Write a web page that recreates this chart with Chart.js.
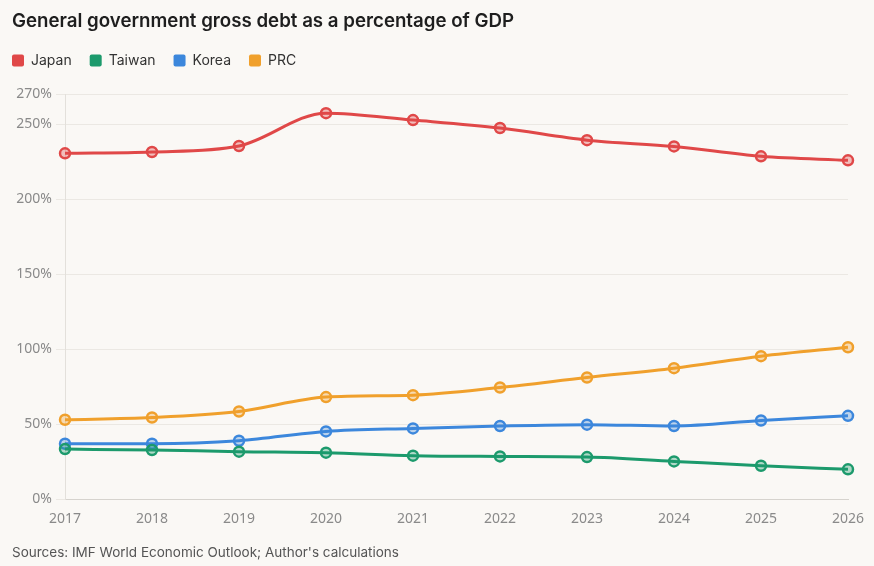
<!DOCTYPE HTML>
<html>
<head>
    <script src="https://cdn.jsdelivr.net/npm/chart.js"></script>
</head>
<body>
<style>
    * {
        margin: 0;
        padding: 0;
        box-sizing: border-box;
    }
    body {
        background: #faf8f5;
        width: 874px;
        height: 566px;
        overflow: hidden;
    }
    .chart {
        width: 874px;
        height: 566px;
    }
</style>
<div class="chart">
    <canvas id="myChart"></canvas>
</div>
<script>
    const years = ['2017', '2018', '2019', '2020', '2021', '2022', '2023', '2024', '2025', '2026'];
    const japan = [230.7, 231.6, 235.6, 257.5, 252.9, 247.6, 239.5, 235.3, 228.7, 226.0];
    const taiwan = [33.3, 32.7, 31.6, 30.9, 28.9, 28.4, 28.0, 25.1, 22.2, 19.8];
    const korea = [36.9, 36.9, 38.9, 45.1, 47.1, 48.7, 49.6, 48.7, 52.4, 55.5];
    const prc = [52.9, 54.4, 58.4, 68.0, 69.3, 74.4, 81.1, 87.3, 95.3, 101.3];
    const yTicks = [0, 50, 100, 150, 200, 250, 270];

    const colors = {
        japan: '#e04848',
        taiwan: '#1c9a6c',
        korea: '#3c87dc',
        prc: '#f0a02c'
    };

    const legendPad = 18;

    function series(label, data, color) {
        return {
            label: label,
            data: data,
            borderColor: color,
            backgroundColor: color,
            pointBackgroundColor: color + '55',
            pointBorderColor: color,
            pointBorderWidth: 2.5,
            pointRadius: 5,
            borderWidth: 3,
            cubicInterpolationMode: 'monotone'
        };
    }

    // extra room under the legend, and line it up with the title
    const legendFix = {
        id: 'legendFix',
        beforeInit(chart) {
            const fit = chart.legend.fit;
            chart.legend.fit = function () {
                fit.bind(chart.legend)();
                this.height += 17;
            };
        },
        afterLayout(chart) {
            chart.legend.left -= legendPad;
            chart.legend.right -= legendPad;
        }
    };

    const ctx = document.getElementById('myChart');
    new Chart(ctx, {
        type: 'line',
        data: {
            labels: years,
            datasets: [
                series('Japan', japan, colors.japan),
                series('Taiwan', taiwan, colors.taiwan),
                series('Korea', korea, colors.korea),
                series('PRC', prc, colors.prc)
            ]
        },
        plugins: [legendFix],
        options: {
            responsive: true,
            maintainAspectRatio: false,
            animation: false,
            layout: {
                padding: { left: 12, right: 26, top: 0, bottom: 5 }
            },
            plugins: {
                title: {
                    display: true,
                    text: 'General government gross debt as a percentage of GDP',
                    align: 'start',
                    color: '#1e1e1e',
                    font: { family: 'Inter', size: 18.7, weight: '600' },
                    padding: { top: 10, bottom: 3 }
                },
                legend: {
                    align: 'start',
                    labels: {
                        usePointStyle: false,
                        useBorderRadius: true,
                        borderRadius: 2,
                        boxWidth: 12,
                        boxHeight: 12,
                        padding: legendPad,
                        color: '#333',
                        font: { family: 'Inter', size: 14 },
                        generateLabels: function (chart) {
                            return chart.data.datasets.map(function (ds, i) {
                                return {
                                    text: ds.label,
                                    fillStyle: ds.borderColor,
                                    strokeStyle: ds.borderColor,
                                    lineWidth: 0,
                                    borderRadius: 2,
                                    fontColor: '#333',
                                    datasetIndex: i
                                };
                            });
                        }
                    }
                },
                subtitle: {
                    display: true,
                    position: 'bottom',
                    align: 'start',
                    text: "Sources: IMF World Economic Outlook; Author's calculations",
                    color: '#555',
                    font: { family: 'Inter', size: 13.5 },
                    padding: { top: 13, bottom: 0 }
                },
                tooltip: { enabled: false }
            },
            scales: {
                x: {
                    offset: false,
                    grid: { display: false },
                    border: { color: '#d6d3ce' },
                    ticks: {
                        color: '#8a8a8a',
                        font: { family: 'Noto Sans', size: 14 },
                        padding: 4,
                        maxRotation: 0
                    }
                },
                y: {
                    min: 0,
                    max: 270,
                    afterBuildTicks: function (scale) {
                        scale.ticks = yTicks.map(function (v) { return { value: v }; });
                    },
                    afterFit: function (scale) {
                        scale.width = 53;
                    },
                    grid: {
                        color: '#ebe8e3',
                        drawTicks: true,
                        tickLength: 9
                    },
                    border: { color: '#e3e0db' },
                    ticks: {
                        color: '#8a8a8a',
                        font: { family: 'Noto Sans', size: 14 },
                        padding: 4,
                        callback: function (v) { return v + '%'; }
                    }
                }
            }
        }
    });
</script>
</body>
</html>
